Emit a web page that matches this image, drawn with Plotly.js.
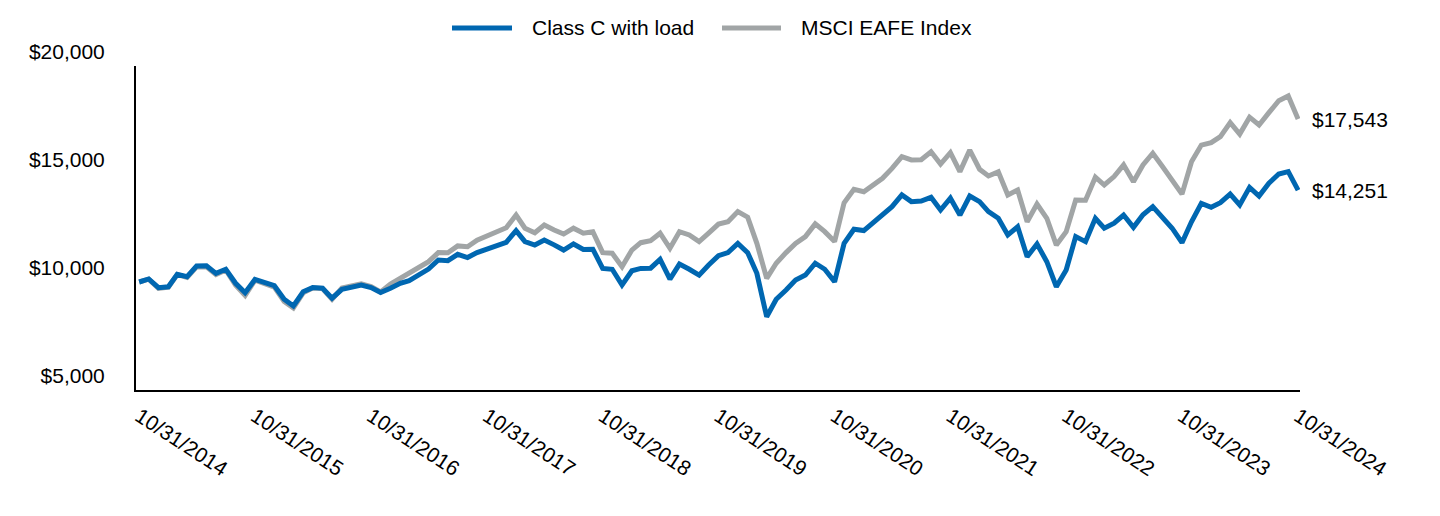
<!DOCTYPE html>
<html>
<head>
<meta charset="utf-8">
<script src="https://cdn.plot.ly/plotly-3.0.1.min.js"></script>
<style>
  html, body { margin: 0; padding: 0; background: #ffffff; }
  #chart { width: 1440px; height: 516px; }
</style>
</head>
<body>
<div id="chart"></div>
<script>
// ---------- DATA ----------
const seriesNames = ["Class C with load", "MSCI EAFE Index"];

// Monthly values, 10/31/2014 .. 10/31/2024 (121 month-ends)
const classC = [
  10000, 10140, 9740, 9780, 10360, 10250, 10740, 10750, 10400, 10590,
  9940, 9500, 10120, 9970, 9830, 9200, 8890, 9550, 9740, 9710,
  9250, 9660, 9740, 9860, 9740, 9510, 9710, 9940, 10060, 10320,
  10600, 11020, 10990, 11280, 11130, 11360, 11510, 11670, 11840, 12380,
  11870, 11710, 11940, 11720, 11480, 11760, 11510, 11520, 10630, 10590,
  9860, 10520, 10630, 10640, 11050, 10130, 10830, 10590, 10320, 10790,
  11220, 11360, 11790, 11360, 10400, 8390, 9200, 9630, 10090, 10320,
  10870, 10590, 10010, 11790, 12440, 12380, 12720, 13100, 13490, 14030,
  13720, 13750, 13920, 13330, 13880, 13100, 13980, 13720, 13260, 12950,
  12180, 12560, 11170, 11760, 10940, 9780, 10560, 12100, 11870, 12950,
  12490, 12720, 13100, 12530, 13110, 13490, 12950, 12490, 11820, 12790,
  13640, 13460, 13670, 14070, 13570, 14380, 13980, 14570, 15000, 15110,
  14251
];

const msciEafe = [
  10000, 10130, 9700, 9760, 10340, 10210, 10700, 10700, 10340, 10560,
  9850, 9380, 10080, 9930, 9760, 9100, 8800, 9500, 9720, 9700,
  9200, 9720, 9800, 9920, 9790, 9540, 9900, 10170, 10400, 10630,
  10940, 11360, 11350, 11670, 11630, 11940, 12130, 12280, 12510, 13100,
  12490, 12280, 12640, 12410, 12220, 12490, 12260, 12330, 11360, 11330,
  10710, 11480, 11820, 11910, 12260, 11560, 12330, 12180, 11870, 12260,
  12680, 12790, 13260, 13000, 11790, 10170, 10870, 11360, 11790, 12100,
  12690, 12330, 11870, 13670, 14290, 14180, 14490, 14800, 15260, 15800,
  15650, 15660, 16030, 15460, 15990, 15110, 16110, 15220, 14910, 15100,
  14030, 14260, 12790, 13610, 12950, 11710, 12330, 13800, 13790, 14850,
  14490, 14880, 15420, 14640, 15420, 15960, 15340, 14720, 14070, 15570,
  16340, 16450, 16730, 17380, 16850, 17630, 17270, 17840, 18390, 18610,
  17543
];

const xTickVals = ["2014-10-31","2015-10-31","2016-10-31","2017-10-31","2018-10-31",
                   "2019-10-31","2020-10-31","2021-10-31","2022-10-31","2023-10-31","2024-10-31"];
const xTickText = ["10/31/2014","10/31/2015","10/31/2016","10/31/2017","10/31/2018",
                   "10/31/2019","10/31/2020","10/31/2021","10/31/2022","10/31/2023","10/31/2024"];
const yTickVals = [5000, 10000, 15000, 20000];
const yTickText = ["$5,000", "$10,000", "$15,000", "$20,000"];
const endLabels = ["$14,251", "$17,543"];

// month-end dates (categories)
function monthEnds(startYear, startMonth, count) {
  const out = [];
  for (let k = 0; k < count; k++) {
    const m0 = startMonth - 1 + k;
    const y = startYear + Math.floor(m0 / 12);
    const m = (m0 % 12) + 1;
    const d = new Date(Date.UTC(y, m, 0)).getUTCDate();
    out.push(y + "-" + String(m).padStart(2, "0") + "-" + String(d).padStart(2, "0"));
  }
  return out;
}
const dates = monthEnds(2014, 10, classC.length);

// ---------- STYLE ----------
const BLUE = "#0067b1";
const GRAY = "#a1a5a6";
const FONT = "Arial, 'Liberation Sans', Helvetica, sans-serif";

const W = 1440, H = 516;
const M = { l: 136, r: 140, t: 66, b: 126 };
const px2paperX = px => (px - M.l) / (W - M.l - M.r);
const px2paperY = py => (H - M.b - py) / (H - M.t - M.b);

const traces = [
  { x: dates, y: msciEafe, name: seriesNames[1], type: "scatter", mode: "lines",
    line: { color: GRAY, width: 5, shape: "linear" }, showlegend: false, hoverinfo: "x+y+name" },
  { x: dates, y: classC, name: seriesNames[0], type: "scatter", mode: "lines",
    line: { color: BLUE, width: 5, shape: "linear" }, showlegend: false, hoverinfo: "x+y+name" }
];

// custom legend (sample lines + names)
const legendY = px2paperY(28);
const legendItems = [
  { x0: 452, x1: 512, tx: 530, color: BLUE, label: seriesNames[0] },
  { x0: 722, x1: 781, tx: 799, color: GRAY, label: seriesNames[1] }
];
const shapes = legendItems.map(it => ({
  type: "line", xref: "paper", yref: "paper",
  x0: px2paperX(it.x0), x1: px2paperX(it.x1), y0: legendY, y1: legendY,
  line: { color: it.color, width: 5 }
}));
const annotations = legendItems.map(it => ({
  xref: "paper", yref: "paper", x: px2paperX(it.tx), y: legendY,
  xanchor: "left", yanchor: "middle", showarrow: false,
  text: it.label, font: { family: FONT, size: 21, color: "#000000" }
}));

// end-value labels
const last = dates.length - 1;
annotations.push(
  { x: dates[last], y: classC[last], xref: "x", yref: "y", xanchor: "left", yanchor: "middle",
    xshift: 12, showarrow: false, text: endLabels[0], font: { family: FONT, size: 21, color: "#000000" } },
  { x: dates[last], y: msciEafe[last], xref: "x", yref: "y", xanchor: "left", yanchor: "middle",
    xshift: 12, showarrow: false, text: endLabels[1], font: { family: FONT, size: 21, color: "#000000" } }
);

const layout = {
  width: W, height: H,
  margin: M,
  paper_bgcolor: "#ffffff",
  plot_bgcolor: "#ffffff",
  showlegend: false,
  font: { family: FONT, size: 21, color: "#000000" },
  xaxis: {
    type: "date",
    range: ["2014-10-21", "2024-11-06"],
    tickmode: "array", tickvals: xTickVals, ticktext: xTickText,
    tickangle: 33,
    showgrid: false, zeroline: false,
    showline: true, linecolor: "#000000", linewidth: 2,
    ticks: "", ticklabelstandoff: 4,
    tickfont: { family: FONT, size: 21, color: "#000000" },
    fixedrange: true
  },
  yaxis: {
    range: [5000, 20000],
    tickmode: "array", tickvals: yTickVals, ticktext: yTickText,
    showgrid: false, zeroline: false,
    showline: true, linecolor: "#000000", linewidth: 2,
    ticks: "", ticklabelstandoff: 25, ticklabelshift: -14,
    tickfont: { family: FONT, size: 21, color: "#000000" },
    fixedrange: true
  },
  shapes: shapes,
  annotations: annotations
};

Plotly.newPlot("chart", traces, layout, { displayModeBar: false, staticPlot: true });
</script>
</body>
</html>
